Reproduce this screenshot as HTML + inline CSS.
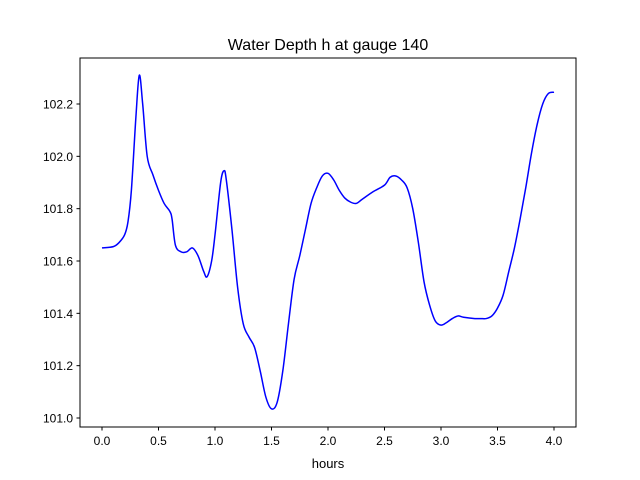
<!DOCTYPE html>
<html><head><meta charset="utf-8"><style>
body{margin:0;background:#fff;font-family:"Liberation Sans","DejaVu Sans",sans-serif}
</style></head><body>
<svg id="chart" width="640" height="480" xmlns="http://www.w3.org/2000/svg" style="display:block">
<rect width="640" height="480" fill="#fff"/>
<text x="328" y="50" text-anchor="middle" font-size="16" fill="#000">Water Depth h at gauge 140</text>
<g id="axes"></g>
<text x="328" y="468" text-anchor="middle" font-size="13" fill="#000">hours</text>
</svg>
<script>
const hours=[0,0.1,0.15,0.2,0.23,0.26,0.3,0.33,0.36,0.4,0.45,0.5,0.55,0.6,0.62,0.65,0.7,0.75,0.8,0.85,0.9,0.93,0.97,1.0,1.05,1.08,1.1,1.15,1.2,1.25,1.3,1.35,1.4,1.45,1.5,1.55,1.6,1.65,1.7,1.75,1.8,1.85,1.9,1.95,2.0,2.05,2.1,2.15,2.2,2.25,2.3,2.4,2.5,2.55,2.6,2.65,2.7,2.75,2.8,2.85,2.9,2.95,3.0,3.05,3.1,3.15,3.2,3.3,3.35,3.4,3.45,3.5,3.55,3.6,3.65,3.7,3.75,3.8,3.85,3.9,3.95,4.0];
const depth=[101.65,101.655,101.67,101.70,101.75,101.87,102.15,102.31,102.2,102.0,101.93,101.87,101.82,101.79,101.76,101.66,101.635,101.635,101.65,101.62,101.56,101.54,101.60,101.70,101.90,101.945,101.91,101.72,101.50,101.36,101.31,101.27,101.18,101.08,101.035,101.06,101.18,101.36,101.53,101.62,101.72,101.82,101.88,101.925,101.935,101.91,101.87,101.84,101.825,101.82,101.835,101.865,101.89,101.92,101.925,101.91,101.88,101.80,101.67,101.52,101.43,101.37,101.355,101.365,101.38,101.39,101.385,101.38,101.38,101.38,101.39,101.42,101.47,101.56,101.65,101.76,101.88,102.01,102.12,102.20,102.24,102.245];
const xTicks=[0,0.5,1,1.5,2,2.5,3,3.5,4];
const xTickLabels=["0.0","0.5","1.0","1.5","2.0","2.5","3.0","3.5","4.0"];
const yTicks=[101.0,101.2,101.4,101.6,101.8,102.0,102.2];
const yTickLabels=["101.0","101.2","101.4","101.6","101.8","102.0","102.2"];

const L=80,R=576,T=58,B=427;
const xs=v=>102+(v-0)*(554-102)/4;
const ys=v=>418-(v-101.0)*(418-104)/1.2;
const NS="http://www.w3.org/2000/svg";
const g=document.getElementById('axes');
function mk(tag,attrs){const e=document.createElementNS(NS,tag);for(const k in attrs)e.setAttribute(k,attrs[k]);g.appendChild(e);return e;}

const P=hours.map((h,i)=>[xs(h),ys(depth[i])]);
let d="M"+P[0][0].toFixed(2)+","+P[0][1].toFixed(2);
for(let i=0;i<P.length-1;i++){
  const p0=P[Math.max(i-1,0)],p1=P[i],p2=P[i+1],p3=P[Math.min(i+2,P.length-1)];
  const c1=[p1[0]+(p2[0]-p0[0])/6,p1[1]+(p2[1]-p0[1])/6];
  const c2=[p2[0]-(p3[0]-p1[0])/6,p2[1]-(p3[1]-p1[1])/6];
  d+="C"+c1[0].toFixed(2)+","+c1[1].toFixed(2)+" "+c2[0].toFixed(2)+","+c2[1].toFixed(2)+" "+p2[0].toFixed(2)+","+p2[1].toFixed(2);
}
const line=mk('path',{d:d,fill:'none',stroke:'#0000ff','stroke-width':1.5,'stroke-linejoin':'round'});



const frame=mk('rect',{x:L,y:T,width:R-L,height:B-T,fill:'none',stroke:'#000','stroke-width':1});



xTicks.forEach((t,i)=>{
  const x=xs(t);
  const tk=mk('line',{x1:x,x2:x,y1:B,y2:B+3.5,stroke:'#000'});
  
  
  const tx=mk('text',{x:x,y:B+18,'text-anchor':'middle','font-size':12,fill:'#000'});
  tx.textContent=xTickLabels[i];
  
  
});
yTicks.forEach((t,i)=>{
  const y=ys(t);
  const tk=mk('line',{x1:L-3.5,x2:L,y1:y,y2:y,stroke:'#000'});
  
  
  const tx=mk('text',{x:L-7,y:y+4.5,'text-anchor':'end','font-size':12,fill:'#000'});
  tx.textContent=yTickLabels[i];
  
  
});
</script>
</body></html>
